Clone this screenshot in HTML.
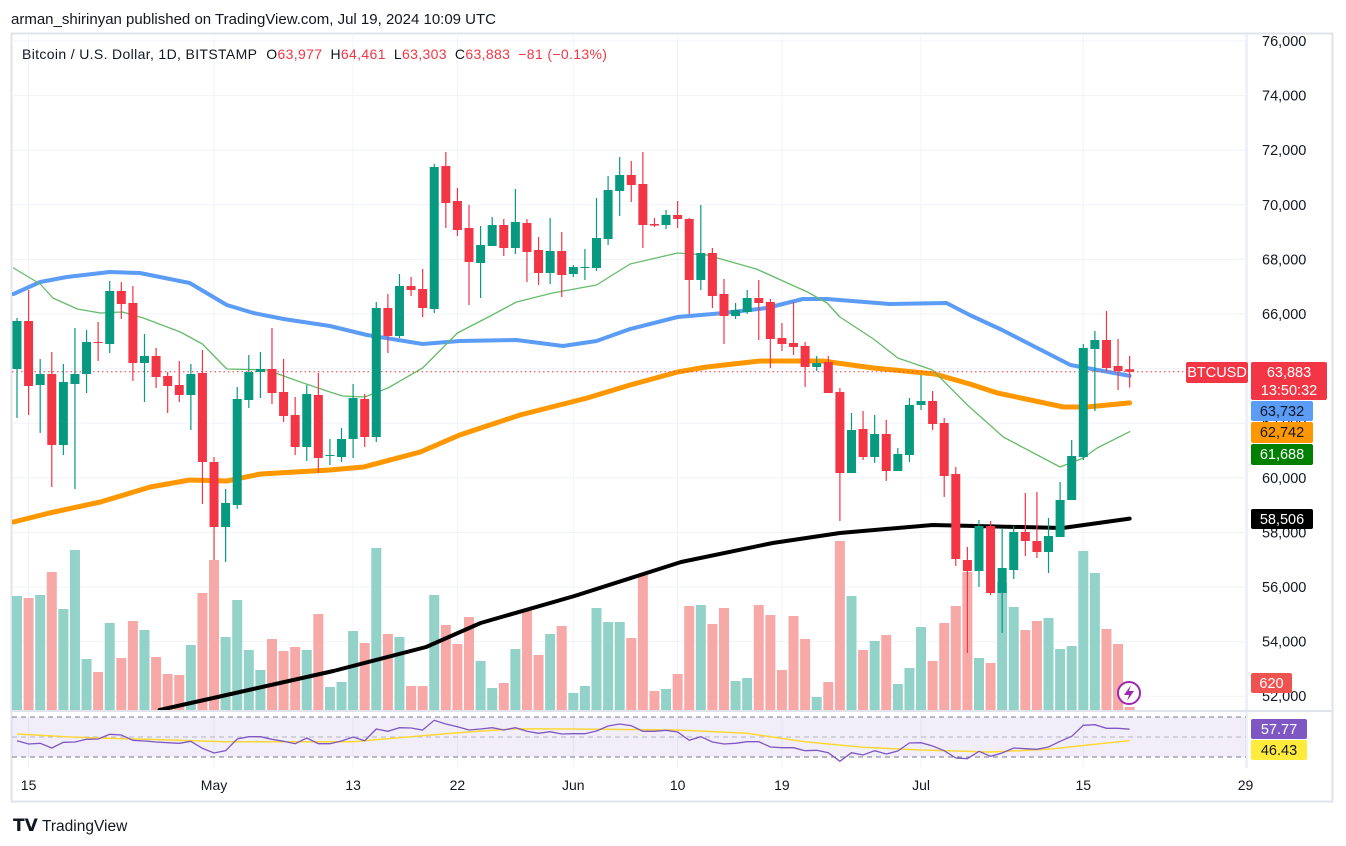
<!DOCTYPE html>
<html><head><meta charset="utf-8"><style>
html,body{margin:0;padding:0;background:#fff;}
svg{display:block;font-family:"Liberation Sans",sans-serif;}
</style></head><body>
<svg id="chart" width="1346" height="846" viewBox="0 0 1346 846" xmlns="http://www.w3.org/2000/svg">
<text x="11" y="24" font-size="15" fill="#131722">arman_shirinyan published on TradingView.com, Jul 19, 2024 10:09 UTC</text>
<rect x="11.5" y="33.5" width="1321" height="768" fill="none" stroke="#e0e3eb" stroke-width="2"/>
<g id="grid"></g>
<g id="vol"></g>
<g id="mas"></g>
<g id="candles"></g>
<g id="rsi"></g>
<g id="axes"></g>
<text x="22" y="59" font-size="14" letter-spacing="0.35" fill="#131722">Bitcoin / U.S. Dollar, 1D, BITSTAMP <tspan dx="5">O</tspan><tspan fill="#f23645">63,977</tspan><tspan dx="8">H</tspan><tspan fill="#f23645">64,461</tspan><tspan dx="8">L</tspan><tspan fill="#f23645">63,303</tspan><tspan dx="8">C</tspan><tspan fill="#f23645">63,883</tspan><tspan dx="8" fill="#f23645">−81 (−0.13%)</tspan></text>
<g>
<text x="13" y="831" font-size="17" font-weight="bold" fill="#131722">𝗧𝗩</text>
<text x="42" y="831" font-size="15.5" fill="#131722">TradingView</text>
</g>
</svg>
<script>
const openP=[63986,65744,63399,63802,61202,63436,63802,64975,64901,66843,66403,64205,64462,63729,63399,63033,63839,60579,58198,59004,62850,63876,63986,63143,62301,61128,63033,60799,60762,61421,62887,61495,66220,65194,67026,66916,66183,71421,70139,69150,67868,68491,69260,68418,69334,68344,67502,68308,67465,67685,67685,68747,70506,71092,70762,69297,69260,69627,69480,67246,68235,66733,65927,66073,66586,66440,65121,64938,64828,64059,64242,63143,60176,61788,60762,61605,60249,60835,62667,62813,62008,60139,56989,56586,58235,55780,56623,58015,57685,57282,57832,59187,60762,64718,65048,64095,63977];
const highP=[65854,66879,64352,64608,64169,65487,65414,65707,67209,67172,67026,65268,64755,63876,64279,64169,64681,60762,59590,63326,64498,64608,65487,64352,62960,63399,63839,61421,61824,63436,63070,66440,66733,67465,67355,67649,71495,71934,70616,69993,69224,69553,69480,70579,69480,68821,69517,69004,67795,68381,70249,71055,71751,71605,71934,69517,69810,70139,69517,69993,68418,67282,66403,66879,67246,66550,65671,66440,64975,64462,64462,63290,62374,62447,62301,62117,61092,62923,63766,63180,62191,60396,57465,58454,58418,58161,58235,59443,59480,58528,59846,61385,64901,65377,66110,65084,64461];
const lowP=[62191,62301,61641,59663,60835,59590,63106,64279,64572,65817,63546,62777,63290,62374,62777,61751,59040,56989,56916,58857,62557,62923,62703,62044,60835,60616,60176,60469,60579,60725,61128,61312,64572,65121,66660,65890,66037,69150,68857,66330,66586,68491,68125,68198,67172,67062,67099,66623,67355,67246,67575,68528,69590,70103,68418,69187,69114,69150,66000,66879,66220,64901,65817,66000,65048,64022,64645,64498,63326,63912,63106,58418,60176,60652,60542,59883,60249,60579,62484,61751,59297,56769,53583,56000,55707,54315,56293,57136,57062,56513,57832,59187,60652,62447,63912,63216,63303];
const closeP=[65744,63363,63802,61202,63509,63802,64975,64938,66843,66366,64205,64462,63692,63363,63033,63802,60579,58198,59077,62887,63876,63986,63106,62264,61128,63070,60725,60835,61421,62923,61495,66220,65194,67026,66879,66220,71385,70066,69077,67905,68528,69260,68418,69370,68271,67502,68308,67429,67722,67722,68784,70542,71092,70725,69260,69240,69627,69480,67246,68235,66660,65927,66147,66586,66403,65084,64901,64791,64059,64205,63106,60176,61751,60762,61605,60249,60872,62667,62813,61971,60066,57026,56586,58235,55780,56696,58015,57685,57282,57868,59187,60799,64755,65048,64022,63912,63883];
const volume=[11.4,11.2,11.5,13.8,10.1,16.0,5.1,3.8,8.7,5.2,8.9,8.0,5.3,3.6,3.5,6.5,11.7,15.0,7.3,11.0,6.0,4.0,7.1,5.9,6.3,6.0,9.6,2.3,2.8,7.9,6.7,16.2,7.6,7.3,2.4,2.4,11.5,8.5,6.6,9.3,4.9,2.2,2.7,6.1,9.9,5.5,7.6,8.4,1.7,2.4,10.2,8.8,8.8,7.2,13.5,1.9,2.1,3.6,10.4,10.5,8.6,10.2,2.9,3.2,10.5,9.5,4.0,9.4,7.1,1.3,2.8,16.9,11.4,6.0,6.9,7.5,2.6,4.2,8.3,4.9,8.7,10.4,13.8,5.2,4.7,12.8,10.3,8.0,8.9,9.2,6.1,6.4,15.9,13.7,8.1,6.6,0.3];
const rsiVals=[46.3,43,43.7,39,44.7,45,47.7,48,52.7,52,46.7,46,45,44.3,43.7,45.7,38.7,34,36.3,48,50.3,50.3,47.7,45.7,43.3,49,43.3,43.3,46,50,46.3,58,55.7,59.3,59,57,66.7,63,60.3,57,58,59.3,57,59.3,55.7,53.7,55.3,53,53.3,53.3,56,61,63,61.3,55.7,55.7,56.7,55,46.7,50.3,45,43,43.7,45.3,45.3,40,39.3,39.3,36.3,36.7,34.3,25.7,34.3,32,36.3,33,36,44,44.3,41,36.3,29,28.3,35.7,30.7,34,39,38.3,37.7,40,45.7,50.7,61.7,62.3,58.7,58.7,57.77];
const rsiMaDays=[0,5,11,18,29,34,38,43,48,57,63,68,73,78,84,89,93,96];
const rsiMaVals=[53,49.7,47.7,45.3,45.3,50.3,54.3,58.3,58,57,53.7,45.3,39.7,37,35,37.7,42.7,46.43];
const sma20Days=[-0.3,2,3.1,5.2,7.2,9.1,10.9,14.1,16,18.1,21.6,24.2,27,28.1,30,32,35,38,41,43.1,46.2,50,52.9,57,59.5,63.8,68.2,69.9,71,73.9,76,79,82,85.1,90,92,93.2,96];
const sma20Vals=[67685,67099,66586,66183,66037,66073,65854,65341,64901,63986,63949,63546,63143,62996,62960,63289,64022,65304,65963,66440,66769,67062,67832,68235,68161,67648,66806,66403,65890,65084,64388,63949,62667,61495,60396,60726,61092,61688];
const sma50Days=[-0.3,2,4.3,8,10.6,14.9,18.1,20.4,23,27,30.2,35,38.2,43.1,47.1,50,52.9,57,61,64.7,67.8,69.9,75.3,80.2,82.2,85,90.9,96];
const sma50Vals=[66733,67172,67355,67539,67502,67136,66330,66037,65817,65560,65231,64901,65011,65048,64828,65011,65451,65890,66037,66220,66550,66550,66367,66403,65963,65414,64132,63732];
const sma100Days=[-0.3,2.8,7.2,11.5,14.9,18.1,21,27,29.9,34.8,38.2,43.4,49.2,52.9,57,59.5,64.1,69.5,73.9,79.2,82.2,84.6,90.3,92.3,96];
const sma100Vals=[58381,58711,59114,59663,59920,59883,60139,60286,60396,60945,61568,62301,62923,63399,63876,64059,64279,64279,64022,63802,63436,63106,62594,62594,62742];
const sma200Days=[12.3,17.7,27.3,35.3,40,48.1,57.3,65.2,71,79,90.2,96];
const sma200Vals=[51495,52008,52923,53803,54682,55671,56916,57612,57978,58271,58161,58506];
const priceTicks=[76000,74000,72000,70000,68000,66000,64000,62000,60000,58000,56000,54000,52000];
const dateLabels=['15','May','13','22','Jun','10','19','Jul','15','29'];
const dateDays=[1,17,29,38,48,57,66,78,92,106];

const NS='http://www.w3.org/2000/svg';
const X0=17, DX=11.59;
const xOf=i=>X0+i*DX;
const yOf=p=>41+(76000-p)/2000*54.6;
const VBASE=710, vH=v=>v/17*170;
const yR=r=>737-(r-50);
function mk(tag,attrs,parent){const e=document.createElementNS(NS,tag);for(const k in attrs)e.setAttribute(k,attrs[k]);parent.appendChild(e);return e;}
const grid=document.getElementById('grid'),vol=document.getElementById('vol'),mas=document.getElementById('mas'),cg=document.getElementById('candles'),rg=document.getElementById('rsi'),ax=document.getElementById('axes');

priceTicks.forEach(p=>{const l=mk('line',{x1:12,x2:1246,y1:yOf(p),y2:yOf(p),stroke:'#f0f3fa','stroke-width':1},grid);

});
dateDays.forEach(d=>{const l=mk('line',{x1:xOf(d),x2:xOf(d),y1:34,y2:768,stroke:'#f0f3fa','stroke-width':1},grid);

});

volume.forEach((v,i)=>{const up=closeP[i]>=openP[i];const h=vH(v);
const r=mk('rect',{x:xOf(i)-5,y:VBASE-h,width:10,height:h,fill:up?'#92d2c9':'#f7a9a7'},vol);

});

function line(days,vals,color,w,name){const pts=days.map((d,k)=>xOf(d).toFixed(1)+','+yOf(vals[k]).toFixed(1)).join(' ');
const p=mk('polyline',{points:pts,fill:'none',stroke:color,'stroke-width':w,'stroke-linejoin':'round','stroke-linecap':'round','clip-path':'url(#mainclip)'},mas);

}
const defs=mk('defs',{},document.getElementById('chart'));
const cp=mk('clipPath',{id:'mainclip'},defs);mk('rect',{x:12,y:34,width:1234,height:676},cp);
line(sma100Days,sma100Vals,'#ff9800',5,'sma100-line');
line(sma50Days,sma50Vals,'#5b9cf6',4,'sma50-line');
line(sma20Days,sma20Vals,'#66bb6a',1.3,'sma20-line');
line(sma200Days,sma200Vals,'#000000',4,'sma200-line');

const lp=mk('line',{x1:12,x2:1186,y1:yOf(63883),y2:yOf(63883),stroke:'#f23645','stroke-width':1,'stroke-dasharray':'1.5 3'},mas);



openP.forEach((o,i)=>{const c=closeP[i];const up=c>=o;const col=up?'#089981':'#f23645';const x=xOf(i);
const g=mk('g',{},cg);


mk('line',{x1:x,x2:x,y1:yOf(highP[i]),y2:yOf(lowP[i]),stroke:col,'stroke-width':1.2},g);
const t=yOf(Math.max(o,c)),b=yOf(Math.min(o,c));
mk('rect',{x:x-4.5,y:t,width:9,height:Math.max(1,b-t),fill:col},g);});

const sep=mk('line',{x1:12,x2:1333,y1:711,y2:711,stroke:'#e0e3eb','stroke-width':2},rg);


const bg=mk('rect',{x:12,y:yR(70),width:1234,height:yR(30)-yR(70),fill:'#7e57c2','fill-opacity':0.1},rg);


[70,50,30].forEach(lv=>{const l=mk('line',{x1:12,x2:1246,y1:yR(lv),y2:yR(lv),stroke:lv===50?'#b2b5be':'#787b86','stroke-width':1,'stroke-dasharray':'5 4'},rg);

});
const rma=mk('polyline',{points:rsiMaDays.map((d,k)=>xOf(d).toFixed(1)+','+yR(rsiMaVals[k]).toFixed(1)).join(' '),fill:'none',stroke:'#fdd835','stroke-width':1.5},rg);


const rl=mk('polyline',{points:rsiVals.map((r,i)=>xOf(i).toFixed(1)+','+yR(r).toFixed(1)).join(' '),fill:'none',stroke:'#7e57c2','stroke-width':1.3},rg);



mk('line',{x1:1247,x2:1247,y1:34,y2:768,stroke:'#e0e3eb','stroke-width':1},ax);
priceTicks.forEach(p=>{const t=mk('text',{x:1262,y:yOf(p)+5,'font-size':14.5,fill:'#131722'},ax);t.textContent=p.toLocaleString('en-US');

});
dateLabels.forEach((s,k)=>{const t=mk('text',{x:xOf(dateDays[k]),y:790,'font-size':14,fill:'#131722','text-anchor':'middle'},ax);t.textContent=s;

});
function tag(x,y,w,h,bgc,fg,txt,name,sub){const g=mk('g',{},ax);


mk('rect',{x:x,y:y,width:w,height:h,fill:bgc,rx:2},g);
const t=mk('text',{x:x+w/2,y:y+15,'font-size':14.5,fill:fg,'text-anchor':'middle'},g);t.textContent=txt;
if(sub){const s=mk('text',{x:x+w/2,y:y+33,'font-size':14.5,fill:fg,'text-anchor':'middle'},g);s.textContent=sub;}}
tag(1186,362,62,21,'#f23645','#fff','BTCUSD','symbol-tag');
tag(1251,362,76,38,'#f23645','#fff','63,883','last-price-tag','13:50:32');
tag(1251,401,62,20,'#5b9cf6','#131722','63,732','sma50-value-tag');
tag(1251,422,62,21,'#ff9800','#131722','62,742','sma100-value-tag');
tag(1251,444,62,21,'#008000','#fff','61,688','sma20-value-tag');
tag(1251,509,62,20,'#000000','#fff','58,506','sma200-value-tag');
tag(1251,673,41,20,'#ef5350','#fff','620','volume-value-tag');
tag(1251,719,56,20,'#7e57c2','#fff','57.77','rsi-value-tag');
tag(1251,740,56,20,'#ffeb3b','#131722','46.43','rsi-ma-value-tag');
const li=mk('g',{},ax);


mk('circle',{cx:1129,cy:693,r:11,fill:'#fff',stroke:'#9c27b0','stroke-width':2},li);
mk('path',{d:'M1131 685 L1124 695 L1129 695 L1127 701 L1134 691 L1129 691 Z',fill:'#9c27b0'},li);
</script>
</body></html>
